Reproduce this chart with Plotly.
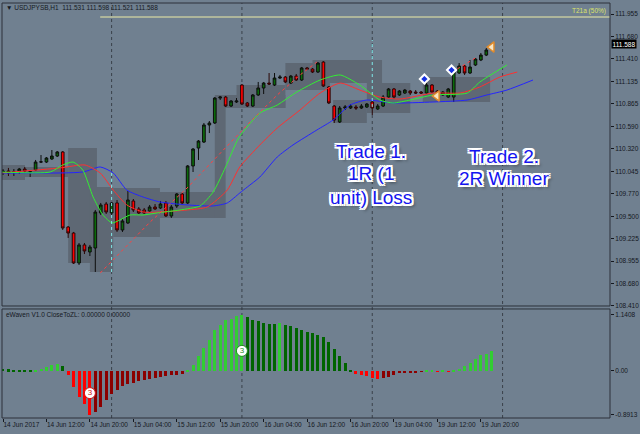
import plotly.graph_objects as go
from plotly.subplots import make_subplots

# USDJPYSB H1 bars, bar index 0 = 14 Jun 2017 04:00
bar_open = [110.025, 110.049, 110.035, 110.037, 110.073, 110.037, 110.061, 110.158, 110.158, 110.195,
            110.231, 110.280, 109.369, 109.296, 108.932, 109.151, 109.066, 109.114, 109.539, 109.648,
            109.539, 109.661, 109.333, 109.418, 109.685, 109.588, 109.576, 109.563, 109.612, 109.600,
            109.661, 109.503, 109.624, 109.770, 109.661, 110.110, 110.328, 110.401, 110.608, 110.632,
            110.935, 110.947, 110.838, 110.887, 111.093, 110.875, 110.838, 110.972, 111.057, 111.117,
            111.093, 111.178, 111.190, 111.117, 111.202, 111.154, 111.300, 111.287, 111.251, 111.372,
            111.069, 110.838, 110.644, 110.814, 110.814, 110.826, 110.814, 110.826, 110.887, 110.802,
            110.838, 110.947, 111.045, 110.972, 110.996, 111.020, 111.008, 111.008, 110.996, 111.093,
            111.020, 110.972, 110.947, 110.947, 111.239, 111.324, 111.239, 111.336, 111.397, 111.457,
            111.531]
bar_high = [110.073, 110.086, 110.073, 110.086, 110.098, 110.061, 110.183, 110.243, 110.219, 110.304,
            110.292, 110.292, 109.381, 109.309, 109.175, 109.175, 109.151, 109.576, 109.661, 109.673,
            109.673, 109.697, 109.466, 109.806, 109.709, 109.612, 109.600, 109.636, 109.648, 109.685,
            109.685, 109.636, 109.782, 109.782, 110.122, 110.328, 110.425, 110.632, 110.656, 110.947,
            110.960, 110.960, 110.911, 110.935, 111.105, 110.887, 110.984, 111.130, 111.130, 111.239,
            111.239, 111.215, 111.202, 111.215, 111.227, 111.312, 111.312, 111.300, 111.372, 111.384,
            111.081, 110.850, 110.838, 110.850, 110.862, 110.850, 110.862, 110.875, 110.911, 110.862,
            110.972, 111.057, 111.057, 111.032, 111.045, 111.032, 111.032, 111.020, 111.154, 111.105,
            111.032, 111.020, 111.057, 111.263, 111.360, 111.336, 111.397, 111.421, 111.482, 111.542,
            111.598]
bar_low = [110.001, 109.988, 109.988, 110.013, 110.025, 109.976, 110.049, 110.146, 110.146, 110.183,
           110.219, 109.333, 109.236, 108.920, 108.908, 109.041, 109.017, 108.823, 109.515, 109.527,
           109.515, 109.309, 109.309, 109.406, 109.551, 109.527, 109.527, 109.551, 109.576, 109.588,
           109.491, 109.479, 109.600, 109.636, 109.648, 110.037, 110.183, 110.389, 110.510, 110.620,
           110.911, 110.826, 110.826, 110.875, 110.850, 110.826, 110.826, 110.960, 110.984, 111.093,
           111.081, 111.166, 111.117, 111.105, 111.142, 111.142, 111.275, 111.239, 111.239, 111.069,
           110.862, 110.632, 110.632, 110.790, 110.802, 110.790, 110.802, 110.814, 110.729, 110.790,
           110.826, 110.935, 110.923, 110.960, 110.984, 110.972, 110.984, 110.984, 110.984, 110.996,
           110.960, 110.960, 110.935, 110.887, 111.227, 111.215, 111.227, 111.324, 111.384, 111.445,
           111.521]
bar_close = [110.049, 110.025, 110.039, 110.073, 110.049, 110.040, 110.158, 110.160, 110.207, 110.231,
             110.280, 109.357, 109.296, 108.932, 109.151, 109.078, 109.126, 109.551, 109.636, 109.551,
             109.661, 109.333, 109.442, 109.697, 109.576, 109.539, 109.539, 109.612, 109.588, 109.648,
             109.503, 109.612, 109.770, 109.661, 110.110, 110.316, 110.413, 110.608, 110.632, 110.935,
             110.947, 110.838, 110.899, 110.899, 110.862, 110.838, 110.972, 111.057, 111.117, 111.105,
             111.178, 111.190, 111.130, 111.202, 111.154, 111.300, 111.287, 111.251, 111.360, 111.081,
             110.875, 110.668, 110.814, 110.826, 110.838, 110.814, 110.838, 110.862, 110.814, 110.838,
             110.947, 111.045, 110.947, 111.020, 111.032, 110.996, 110.996, 110.996, 111.093, 111.008,
             110.984, 111.008, 111.045, 111.251, 111.324, 111.239, 111.312, 111.409, 111.457, 111.518,
             111.588]

# eWaven histogram
ewaven = [0.047, 0.034, 0.027, 0.020, 0.014, 0.012, 0.027, 0.047, 0.080, 0.115,
          0.150, 0.095, -0.088, -0.326, -0.530, -0.665, -0.8913, -0.830, -0.733, -0.584,
          -0.462, -0.380, -0.312, -0.272, -0.238, -0.210, -0.190, -0.170, -0.143, -0.122,
          -0.109, -0.088, -0.075, -0.054, 0.014, 0.115, 0.300, 0.470, 0.640, 0.830,
          0.930, 1.045, 1.066, 1.113, 1.1408, 1.100, 1.030, 1.018, 0.984, 0.964,
          0.958, 0.978, 0.930, 0.910, 0.876, 0.830, 0.790, 0.770, 0.740, 0.690,
          0.584, 0.440, 0.300, 0.156, 0.027, -0.054, -0.088, -0.100, -0.136, -0.163,
          -0.150, -0.122, -0.088, -0.040, -0.027, -0.025, -0.020, -0.015, 0.014, 0.020,
          -0.010, 0.007, -0.012, 0.007, 0.048, 0.100, 0.170, 0.250, 0.320, 0.353,
          0.407]

# alligator lines (shifted forward), read at bar positions
jaw_x = [-0.5, 14.7, 17.9, 20.3, 22.8, 25.8, 28.9, 33.9, 38.7, 41.3, 43.6, 45.0, 47.3,
         50.5, 53.4, 57.8, 60.8, 63.9, 67.0, 71.8, 79.2, 85.5, 89.1, 92.8, 97.6]
jaw_y = [110.025, 110.037, 110.098, 110.025, 109.818, 109.733, 109.673, 109.637, 109.625, 109.661,
         109.782, 109.855, 109.976, 110.219, 110.365, 110.547, 110.668, 110.850, 110.911, 110.875,
         110.887, 110.911, 110.972, 111.032, 111.154]
teeth_x = [-0.5, 10.5, 15.1, 17.9, 20.3, 22.8, 25.8, 28.9, 33.9, 37.6, 41.3, 43.6, 47.3,
           50.5, 54.7, 58.4, 62.1, 65.7, 69.4, 73.1, 79.2, 84.2, 87.8, 91.5, 94.7]
teeth_y = [110.025, 110.086, 110.122, 110.025, 109.818, 109.637, 109.551, 109.551, 109.576, 109.612,
           109.818, 110.098, 110.365, 110.571, 110.790, 110.996, 111.117, 111.032, 110.947, 110.923,
           110.996, 110.996, 111.069, 111.190, 111.251]
lips_x = [-0.5, 8.7, 11.0, 12.9, 14.7, 16.6, 18.4, 20.1, 21.5, 23.4, 25.8, 28.4, 32.6, 36.3,
          38.7, 41.0, 43.4, 47.3, 50.5, 54.1, 58.4, 62.1, 65.7, 69.4, 71.8, 75.0, 79.2, 85.5,
          87.8, 92.8]
lips_y = [110.037, 110.037, 110.122, 110.158, 110.061, 109.733, 109.515, 109.418, 109.454, 109.515,
          109.515, 109.540, 109.576, 109.625, 109.794, 110.098, 110.450, 110.753, 110.850, 111.008,
          111.154, 111.215, 111.093, 110.911, 110.875, 110.911, 110.972, 110.996, 111.129, 111.336]

# red dotted trend lines
trend_x = [17.9, 27.1, 33.9, 40.5, 45.5, 50.5, 54.7, 57.8]
trend_y = [108.811, 109.430, 109.843, 110.304, 110.644, 110.972, 111.215, 111.372]
trend2_x = [82.7, 87.3]
trend2_y = [111.251, 111.433]

# shaded zones (bar from, bar to, high, low)
zone_x0 = [-0.6, 4.05, 12.0, 16.0, 20.3, 28.9, 39.0, 39.0, 43.0, 52.0, 57.0, 60.8, 67.0, 77.3]
zone_x1 = [4.05, 12.0, 17.3, 20.3, 28.9, 40.9, 41.0, 52.0, 52.0, 60.2, 69.8, 67.0, 75.0, 89.7]
zone_hi = [110.122, 110.098, 110.328, 109.855, 109.843, 109.794, 110.947, 110.972, 111.093,
           111.360, 111.397, 110.911, 111.117, 111.190]
zone_lo = [109.940, 109.976, 108.932, 108.823, 109.248, 109.479, 109.479, 110.814, 110.814,
           111.032, 111.117, 110.632, 110.753, 110.887]

# trade markers
entry_x = [77.6, 82.6]
entry_y = [111.166, 111.275]
exit_x = [79.9, 90.0]
exit_y = [110.960, 111.554]

t21a_level = 111.919
t21a_start = 17.9
entry_lines = [(20, 108.823, 110.037), (68, 110.826, 111.639)]

tick_bars = [0, 8, 16, 24, 32, 40, 48, 56, 64, 72, 80, 88]
tick_labels = ["14 Jun 2017", "14 Jun 12:00", "14 Jun 20:00", "15 Jun 04:00", "15 Jun 12:00",
               "15 Jun 20:00", "16 Jun 04:00", "16 Jun 12:00", "16 Jun 20:00", "19 Jun 04:00",
               "19 Jun 12:00", "19 Jun 20:00"]
price_ticks = [111.955, 111.680, 111.410, 111.135, 110.865, 110.590, 110.320, 110.045,
               109.770, 109.500, 109.225, 108.955, 108.680, 108.410]
day_breaks = [20, 44, 68, 92]

BG = "#708090"
ZONE = "#5E6874"
INK = "#15181f"
FONT = "Liberation Sans, Arial, sans-serif"

bars = list(range(len(bar_close)))

# histogram colours: bright when moving away from zero
hist_colors = []
for i, v in enumerate(ewaven):
    prev = ewaven[i - 1] if i else v
    if v >= 0:
        hist_colors.append("#32CD32" if v > prev else "#006400")
    else:
        hist_colors.append("#FF0000" if v < prev else "#8B0000")

fig = make_subplots(rows=2, cols=1, shared_xaxes=True, vertical_spacing=0.01)

fig.add_trace(go.Candlestick(
    x=bars, open=bar_open, high=bar_high, low=bar_low, close=bar_close,
    increasing=dict(fillcolor="#0B6A0B", line=dict(color="#0d0d0d", width=1)),
    decreasing=dict(fillcolor="#FF0000", line=dict(color="#2a0505", width=1)),
    whiskerwidth=0, hoverinfo="skip"), row=1, col=1)

for xs, ys, col in [(jaw_x, jaw_y, "#2424FF"), (teeth_x, teeth_y, "#FF3030"), (lips_x, lips_y, "#33EE33")]:
    fig.add_trace(go.Scatter(x=xs, y=ys, mode="lines", line=dict(color=col, width=1, shape="spline", smoothing=0.6),
                             hoverinfo="skip"), row=1, col=1)

for xs, ys in [(trend_x, trend_y), (trend2_x, trend2_y)]:
    fig.add_trace(go.Scatter(x=xs, y=ys, mode="lines", line=dict(color="#FF4040", width=1, dash="dot"),
                             hoverinfo="skip"), row=1, col=1)

fig.add_trace(go.Scatter(x=entry_x, y=entry_y, mode="markers",
                         marker=dict(symbol="diamond", size=7, color="#1530E0", line=dict(color="white", width=2)),
                         hoverinfo="skip"), row=1, col=1)
fig.add_trace(go.Scatter(x=exit_x, y=exit_y, mode="markers",
                         marker=dict(symbol="triangle-left", size=9, color="#F7E6C4", line=dict(color="#E08A2A", width=1.5)),
                         hoverinfo="skip"), row=1, col=1)

fig.add_trace(go.Bar(x=bars, y=ewaven, marker=dict(color=hist_colors, line=dict(width=0)), width=0.55,
                     hoverinfo="skip"), row=2, col=1)

# wave count badges
fig.add_trace(go.Scatter(x=[44, 16], y=[0.41, -0.45], mode="markers+text", text=["3", "3"],
                         textfont=dict(size=8, color=["#1E8C1E", "#D01010"], family=FONT),
                         textposition="middle center",
                         marker=dict(size=11, color="white", line=dict(color=["#1E8C1E", "#D01010"], width=1)),
                         hoverinfo="skip"), row=2, col=1)

shapes = []
for x0, x1, hi, lo in zip(zone_x0, zone_x1, zone_hi, zone_lo):
    shapes.append(dict(type="rect", xref="x", yref="y", x0=x0, x1=x1, y0=lo, y1=hi,
                       fillcolor=ZONE, line=dict(width=0), layer="below"))
for d in day_breaks:
    shapes.append(dict(type="line", xref="x", yref="paper", x0=d, x1=d, y0=0, y1=1,
                       line=dict(color="#3a404a", width=1, dash="dot"), layer="below"))
for d, lo, hi in entry_lines:
    shapes.append(dict(type="line", xref="x", yref="y", x0=d, x1=d, y0=lo, y1=hi,
                       line=dict(color="#7FE8E8", width=1, dash="dot")))
shapes.append(dict(type="line", xref="x", yref="y", x0=t21a_start, x1=111.78, y0=t21a_level, y1=t21a_level,
                   line=dict(color="#ECEBA6", width=1)))
# pane borders
shapes.append(dict(type="rect", xref="paper", yref="paper", x0=0, x1=1, y0=0.2699, y1=1,
                   line=dict(color="#2c313a", width=1)))
shapes.append(dict(type="rect", xref="paper", yref="paper", x0=0, x1=1, y0=0, y1=0.2627,
                   line=dict(color="#2c313a", width=1)))

outline = ", ".join(f"{dx}px {dy}px 0 #ffffff" for dx, dy in
                    [(-2, -2), (2, -2), (-2, 2), (2, 2), (0, 2), (2, 0), (0, -2), (-2, 0)])
outline += ", 3px 3px 3px rgba(0,0,0,0.45)"
trade_font = dict(family="Liberation Sans, Arial, sans-serif", size=19, color="#1414F0", shadow=outline)

annotations = [
    dict(xref="paper", yref="paper", x=0.004, y=0.99, xanchor="left", yanchor="middle", showarrow=False,
         text="▼ USDJPYSB,H1  111.531 111.598 111.521 111.588", font=dict(family=FONT, size=6.5, color=INK)),
    dict(xref="paper", yref="paper", x=0.004, y=0.249, xanchor="left", yanchor="middle", showarrow=False,
         text="eWaven V1.0 CloseToZL: 0.00000 0.00000", font=dict(family=FONT, size=6.5, color=INK)),
    dict(xref="paper", yref="y", x=0.996, y=t21a_level, xanchor="right", yanchor="bottom", showarrow=False,
         text="T21a (50%)", font=dict(family=FONT, size=6.5, color="#DCE36A")),
    dict(xref="paper", yref="y", x=1, y=bar_close[-1], xanchor="left", yanchor="middle", showarrow=False,
         text=f"{bar_close[-1]:.3f}", bgcolor="#000000", borderpad=0.5, xshift=1,
         font=dict(family=FONT, size=6.5, color="white")),
]
for txt, px, py in [("Trade 1.", 0.607, 0.641), ("1R (1", 0.607, 0.588), ("unit) Loss", 0.607, 0.5325),
                    ("Trade 2.", 0.826, 0.631), ("2R Winner", 0.826, 0.578)]:
    annotations.append(dict(xref="paper", yref="paper", x=px, y=py, xanchor="center", yanchor="middle",
                            showarrow=False, text=txt, font=trade_font))

fig.update_layout(
    width=640, height=434,
    margin=dict(l=2, r=30, t=3, b=16, autoexpand=False),
    paper_bgcolor=BG, plot_bgcolor=BG,
    showlegend=False, bargap=0,
    shapes=shapes, annotations=annotations,
    font=dict(family=FONT, size=6.5, color=INK),
)
fig.update_xaxes(range=[-0.184, 111.78], showgrid=False, zeroline=False, showline=False,
                 rangeslider_visible=False, automargin=False)
fig.update_xaxes(showticklabels=False, ticks="", row=1, col=1)
fig.update_xaxes(tickvals=tick_bars, ticktext=tick_labels, ticks="outside", ticklen=3, tickcolor=INK,
                 tickangle=0, ticklabelposition="outside right", tickfont=dict(size=6.5, color=INK),
                 row=2, col=1)
fig.update_yaxes(side="right", showgrid=False, zeroline=False, showline=False, ticks="outside", ticklen=3,
                 tickcolor=INK, tickfont=dict(size=6.5, color=INK), automargin=False)
fig.update_yaxes(domain=[0.2699, 1], range=[108.410, 112.089], tickvals=price_ticks,
                 ticktext=[f"{p:.3f}" for p in price_ticks], row=1, col=1)
fig.update_yaxes(domain=[0, 0.2627], range=[-0.957, 1.263], tickvals=[1.1408, 0, -0.8913],
                 ticktext=["1.1408", "0.00", "-0.8913"], row=2, col=1)

# page body has a default margin; remove it so the figure sits at the window origin
fig.write_html("out.html", config={"displayModeBar": False},
               post_script="document.body.style.margin='0';document.body.style.background='#708090';")
